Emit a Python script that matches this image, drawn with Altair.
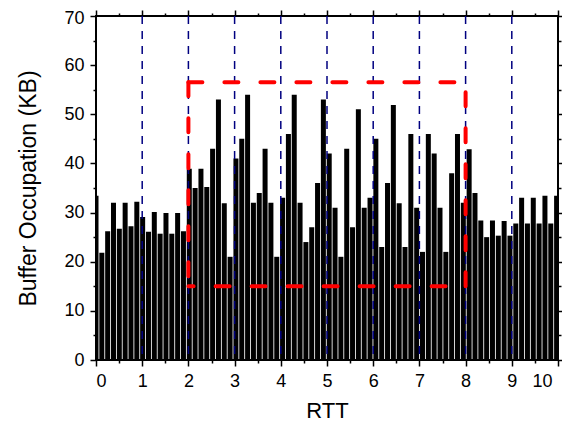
import altair as alt
import pandas as pd

# ---- data ----
bar_values = [
    33.4, 21.8, 26.2, 32.0, 26.7, 32.0, 27.2, 32.2,
    29.1, 26.1, 30.1, 25.7, 29.9, 25.7, 29.9, 26.2,
    38.9, 35.0, 38.9, 35.2, 43.0, 53.0, 31.9, 21.0,
    41.0, 45.0, 54.0, 32.0, 34.0, 43.0, 32.0, 21.0,
    33.0, 46.0, 54.0, 32.0, 24.0, 27.0, 36.0, 53.0,
    42.0, 31.0, 21.0, 43.0, 27.0, 51.0, 31.0, 33.0,
    45.0, 23.0, 36.0, 51.9, 31.9, 23.0, 46.0, 31.0,
    22.0, 46.0, 42.0, 31.0, 22.0, 38.0, 46.0, 32.0,
    42.9, 34.0, 28.4, 25.0, 28.4, 25.3, 28.3, 25.3,
    27.8, 33.0, 27.8, 33.0, 27.8, 33.4, 27.8, 33.4,
]
bar_step = 0.1262  # RTT spacing between samples
bar_x = [round(i * bar_step, 4) for i in range(len(bar_values))]

rtt_marks = [1, 2, 3, 4, 5, 6, 7, 8, 9]          # blue dashed lines
box_x = [2, 8]                                    # red dashed box
box_y = [15, 56.5]

x_major = list(range(0, 11))
x_minor = [i + 0.5 for i in range(10)]
y_major = list(range(0, 71, 10))
y_minor = list(range(5, 70, 10))

bars_df = pd.DataFrame({"x": bar_x, "v": bar_values})
rtt_df = pd.DataFrame({"x": rtt_marks})
# sides: top (left->right), left (top->bottom), right (bottom->top)
box_df = pd.DataFrame({
    "x": [box_x[0], box_x[0], box_x[1]],
    "x2": [box_x[1], box_x[0], box_x[1]],
    "y": [box_y[1], box_y[1], box_y[0]],
    "y2": [box_y[1], box_y[0], box_y[1]],
})
# bottom (right->left)
box_bottom_df = pd.DataFrame({"x": [box_x[1]], "x2": [box_x[0]], "y": [box_y[0]], "y2": [box_y[0]]})

xs = alt.Scale(domain=[0, 10], nice=False, zero=False, padding=0)
ys = alt.Scale(domain=[0, 70], nice=False, padding=0)

FONT = "Liberation Sans"
ax_common = dict(grid=False, domain=False, tickColor="black", tickWidth=1.5,
                 labelFont=FONT, labelFontSize=18, labelColor="black",
                 titleFont=FONT, titleFontSize=22, titleFontWeight="normal", titleColor="black")


def ax(orient, values, size, labels=False, title=None, **kw):
    d = dict(ax_common)
    d.update(kw)
    if title is None:
        return alt.Axis(orient=orient, values=values, tickSize=size, labels=labels, title=None, **d)
    return alt.Axis(orient=orient, values=values, tickSize=size, labels=labels, title=title, **d)


bars = alt.Chart(bars_df).mark_bar(size=5, color="black", clip=True).encode(
    x=alt.X("x:Q", scale=xs, axis=ax("bottom", x_major, 6, labels=True, title="RTT",
                                      labelPadding=6, titlePadding=10,
                                      labelOffset=alt.condition("datum.value == 10",
                                                                alt.value(-6), alt.value(0)))),
    y=alt.Y("v:Q", scale=ys, axis=ax("left", y_major, 6, labels=True, title="Buffer Occupation (KB)",
                                      labelPadding=6, titlePadding=23, titleFontSize=23,
                                      labelOffset=alt.condition("datum.value == 70",
                                                                alt.value(2), alt.value(0)))),
)

rtt_lines = alt.Chart(rtt_df).mark_rule(color="#000080", strokeWidth=1.5, strokeDash=[8, 7]).encode(
    x=alt.X("x:Q", scale=xs, axis=ax("bottom", x_minor, 3)),
)

box = alt.Chart(box_df).mark_rule(
    color="#FF0000", strokeWidth=4, strokeDash=[14, 22], strokeCap="round"
).encode(
    x=alt.X("x:Q", scale=xs, axis=ax("top", x_major, 6)),
    x2="x2:Q",
    y=alt.Y("y:Q", scale=ys, axis=ax("right", y_major, 6)),
    y2="y2:Q",
)

box_bottom = alt.Chart(box_bottom_df).mark_rule(
    color="#FF0000", strokeWidth=4, strokeDash=[14, 22], strokeDashOffset=16, strokeCap="round"
).encode(
    x=alt.X("x:Q", scale=xs, axis=ax("top", x_minor, 3)),
    x2="x2:Q",
    y=alt.Y("y:Q", scale=ys, axis=ax("left", y_minor, 3)),
    y2="y2:Q",
)

minor_right = alt.Chart(bars_df).mark_point(opacity=0).encode(
    x=alt.X("x:Q", scale=xs, axis=None),
    y=alt.Y("v:Q", scale=ys, axis=ax("right", y_minor, 3)),
)

chart = alt.layer(bars, rtt_lines, box, box_bottom, minor_right).resolve_axis(
    x="independent", y="independent"
).properties(
    width=462,
    height=344,
    autosize=alt.AutoSizeParams(type="none"),
    padding={"left": 88, "top": 8, "right": 4, "bottom": 64},
).configure_view(stroke="black", strokeWidth=2)

chart.save("out.html", embed_options={"renderer": "svg", "actions": False})
